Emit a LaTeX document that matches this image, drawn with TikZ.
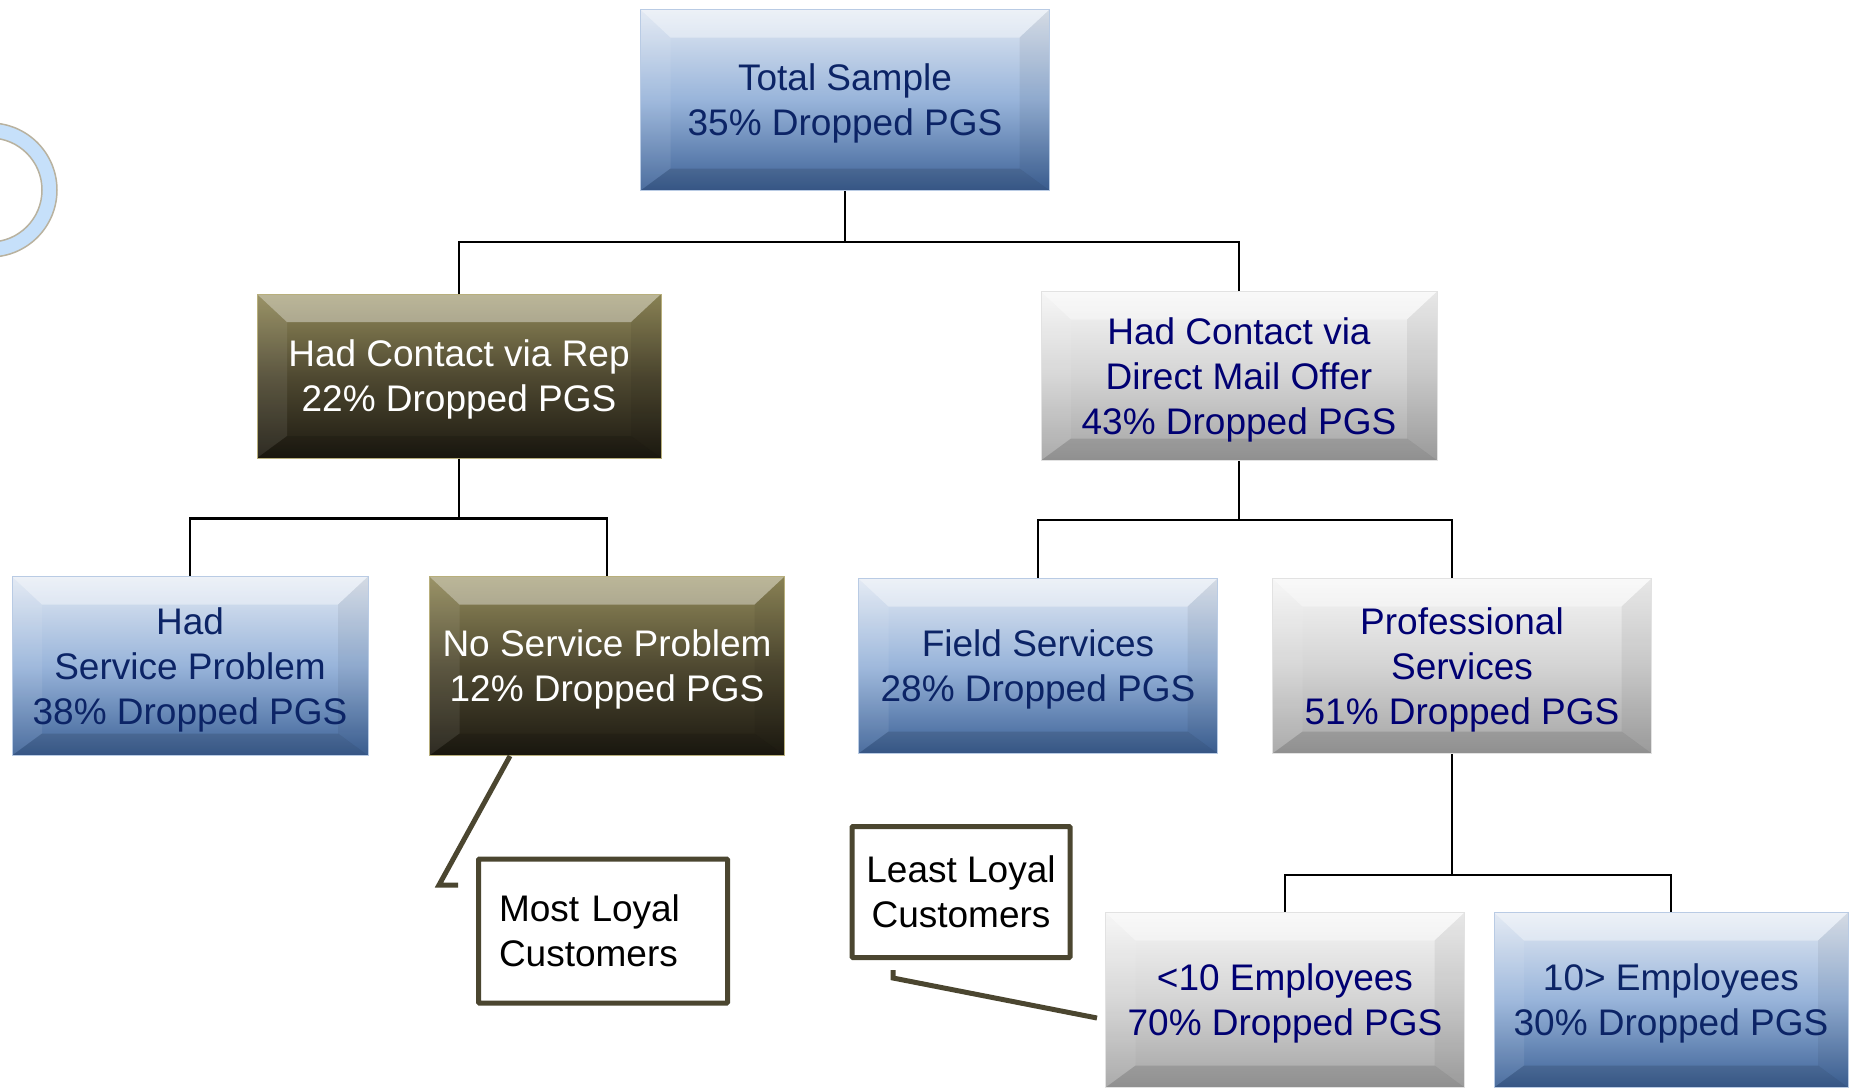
\documentclass[tikz,border=0pt]{standalone}
\usepackage{fontspec}
\setmainfont{Liberation Sans}
\usetikzlibrary{shapes,arrows,positioning}

\definecolor{bluetop}{HTML}{E2E9F3}
\definecolor{bluemid}{HTML}{98B4DA}
\definecolor{bluebot}{HTML}{3D6297}
\definecolor{blueedge}{HTML}{B9CBE4}
\definecolor{bluetext}{HTML}{0C2466}
\definecolor{greytop}{HTML}{F6F6F6}
\definecolor{greymid}{HTML}{D4D4D4}
\definecolor{greybot}{HTML}{A4A4A4}
\definecolor{greyedge}{HTML}{E2E2E2}
\definecolor{greytext}{HTML}{000072}
\definecolor{olivetop}{HTML}{928A5A}
\definecolor{olivemid}{HTML}{4F4931}
\definecolor{olivebot}{HTML}{1D1A11}
\definecolor{oliveedge}{HTML}{B8AF7C}
\definecolor{calledge}{HTML}{4B4630}
\definecolor{ringblue}{HTML}{C6E0FA}
\definecolor{ringedge}{HTML}{B9B29F}

\tikzstyle{bevel} = [path picture={
    \path (path picture bounding box.north west) coordinate (pnw)
          (path picture bounding box.north east) coordinate (pne)
          (path picture bounding box.south west) coordinate (psw)
          (path picture bounding box.south east) coordinate (pse);
    \path ([xshift=30pt,yshift=-28pt]pnw) coordinate (inw)
          ([xshift=-30pt,yshift=-28pt]pne) coordinate (ine)
          ([xshift=30pt,yshift=22pt]psw) coordinate (isw)
          ([xshift=-30pt,yshift=22pt]pse) coordinate (ise);
    \fill[white, opacity=.38] (pnw) -- (pne) -- (ine) -- (inw) -- cycle;
    \fill[white, opacity=.08] (pnw) -- (inw) -- (isw) -- (psw) -- cycle;
    \fill[black, opacity=.06] (pne) -- (ine) -- (ise) -- (pse) -- cycle;
    \fill[black, opacity=.12] (psw) -- (isw) -- (ise) -- (pse) -- cycle;
}]
\tikzstyle{box} = [rectangle, inner sep=0pt, align=center, text depth=0pt,
    font=\fontsize{37}{45}\selectfont, bevel, line width=1pt]
\tikzstyle{bluebox} = [box, top color=bluetop, bottom color=bluebot,
    middle color=bluemid, draw=blueedge, text=bluetext]
\tikzstyle{greybox} = [box, top color=greytop, bottom color=greybot,
    middle color=greymid, draw=greyedge, text=greytext]
\tikzstyle{olivebox} = [box, top color=olivetop, bottom color=olivebot,
    middle color=olivemid, draw=oliveedge, text=white]
\tikzstyle{callout} = [rectangle, draw=calledge, line width=5pt, fill=white,
    rounded corners=1pt, font=\fontsize{37}{45}\selectfont]
\tikzstyle{line} = [draw, line width=2.5pt]
\tikzstyle{callline} = [draw=calledge, line width=5pt]

\begin{document}
\begin{tikzpicture}[x=1pt, y=-1pt]
        \useasboundingbox (0,0) rectangle (1850,1087);

        % Ring at the left edge
        \fill[ringblue, even odd rule] (-10,190) circle (67pt) (-10,190) circle (52pt);
        \draw[ringedge, line width=1.5pt] (-10,190) circle (67pt) (-10,190) circle (52pt);

        % Place nodes
        \node [bluebox, minimum width=409pt, minimum height=181pt] (total) at (845,100) {Total Sample\\35\% Dropped PGS};
        \node [olivebox, minimum width=404pt, minimum height=164pt] (rep) at (459,376) {Had Contact via Rep\\22\% Dropped PGS};
        \node [greybox, minimum width=396pt, minimum height=169pt] (direct) at (1239,376) {Had Contact via\\Direct Mail Offer\\43\% Dropped PGS};
        \node [bluebox, minimum width=356pt, minimum height=179pt] (hadserv) at (190,666) {Had\\Service Problem\\38\% Dropped PGS};
        \node [olivebox, minimum width=355pt, minimum height=179pt] (noserv) at (607,666) {No Service Problem\\12\% Dropped PGS};
        \node [bluebox, minimum width=359pt, minimum height=175pt] (field) at (1038,666) {Field Services\\28\% Dropped PGS};
        \node [greybox, minimum width=379pt, minimum height=175pt] (prof) at (1462,666) {Professional\\Services\\51\% Dropped PGS};
        \node [greybox, minimum width=359pt, minimum height=175pt] (less) at (1285,1000) {<10 Employees\\70\% Dropped PGS};
        \node [bluebox, minimum width=354pt, minimum height=175pt] (more) at (1671,1000) {10> Employees\\30\% Dropped PGS};
        \node [callout, text width=208pt, inner xsep=20.5pt, minimum height=144pt, align=left] (most) at (603,931) {Most Loyal\\Customers};
        \node [callout, minimum width=218pt, minimum height=131pt, inner sep=0pt, align=center] (least) at (961,892) {Least Loyal\\Customers};
        \coordinate (mostknee) at (439,885);
        \coordinate (leastknee) at (893,978);

        % Draw edges
        \path [line] (total.south) -- ++(0,51) -| (rep.north);
        \path [line] (total.south) -- ++(0,51) -| (direct.north);
        \path [line] (rep.south) -- ++(0,60) -| (hadserv.north);
        \path [line] (rep.south) -- ++(0,60) -| (noserv.north);
        \path [line] (direct.south) -- ++(0,59) -| (field.north);
        \path [line] (direct.south) -- ++(0,59) -| ([xshift=-10pt]prof.north);
        \path [line] ([xshift=-10pt]prof.south) -- ++(0,121) -| (less.north);
        \path [line] ([xshift=-10pt]prof.south) -- ++(0,121) -| (more.north);

        % Callout pointers
        \path [callline] ([xshift=81pt]noserv.south west) -- (mostknee) -- ++(19,0);
        \path [callline] ([xshift=-8pt,yshift=-18pt]less.west) -- (leastknee) -- ++(0,-8);
\end{tikzpicture}
\end{document}
